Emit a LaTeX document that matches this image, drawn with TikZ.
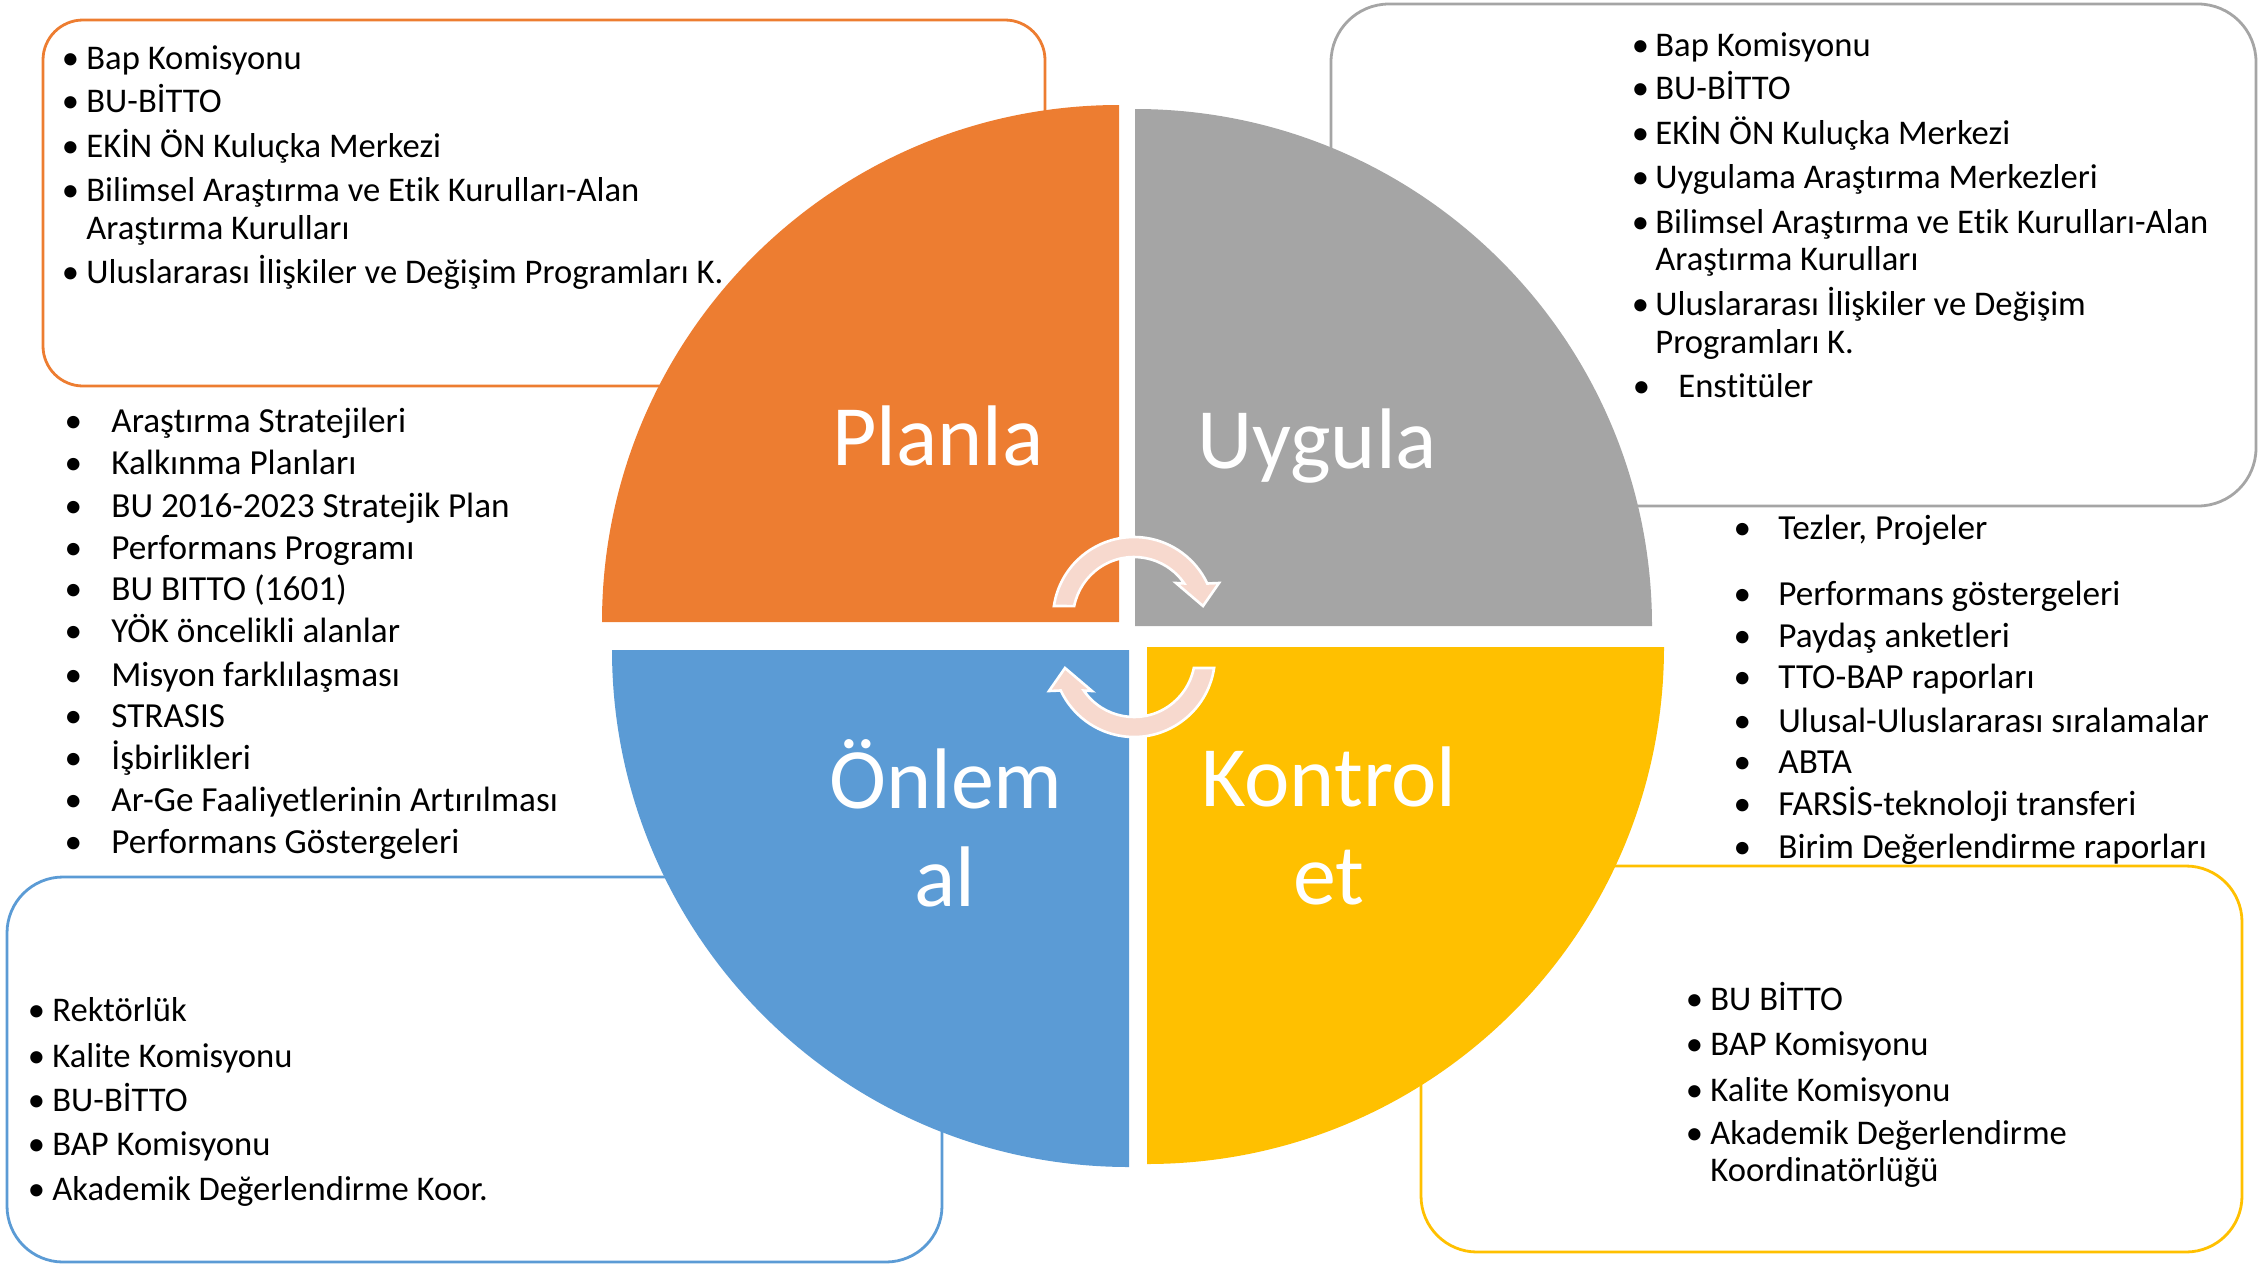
\documentclass[tikz,border=0pt]{standalone}
\usepackage{fontspec}
\setmainfont{Carlito}[Ligatures=NoCommon]
\definecolor{cOr}{HTML}{ED7D31}
\definecolor{cGr}{HTML}{A5A5A5}
\definecolor{cBl}{HTML}{5B9BD5}
\definecolor{cYe}{HTML}{FFC000}
\definecolor{cAr}{HTML}{F7D9CE}
\newcommand\bul[1]{\llap{\makebox[#1][c]{•}}}
\begin{document}
\begin{tikzpicture}[x=0.5pt,y=-0.5pt,
  box/.style={line width=1.4pt, fill=white},
  li/.style={anchor=base west, inner sep=0pt, font=\fontsize{17.3}{20}\selectfont},
  lim/.style={anchor=base west, inner sep=0pt, font=\fontsize{17.6}{20}\selectfont},
  lab/.style={anchor=base, inner sep=0pt, text=white, font=\fontsize{43}{50}\selectfont},
  arr/.style={fill=cAr, draw=white, line width=1.3pt, line join=miter}]
\useasboundingbox (0,0) rectangle (2260,1264);

% boxes
\draw[box, draw=cOr, rounded corners=20pt] (43,20) rectangle (1045,386);
\draw[box, draw=cGr, rounded corners=29pt] (1331,4) rectangle (2256,506);
\draw[box, draw=cBl, rounded corners=28pt] (7,877) rectangle (942,1262);
\draw[box, draw=cYe, rounded corners=28pt] (1421,866) rectangle (2242,1252);

% orange box list
\node[li] (a1) at (86,69) {\bul{16pt}Bap Komisyonu};
\node[li] (a2) at (86,112) {\bul{16pt}BU-BİTTO};
\node[li] (a3) at (86,157) {\bul{16pt}EKİN ÖN Kuluçka Merkezi};
\node[li] (a4) at (86,201) {\bul{16pt}Bilimsel Araştırma ve Etik Kurulları-Alan};
\node[li] (a5) at (86,239) {Araştırma Kurulları};
\node[li] (a6) at (86,283) {\bul{16pt}Uluslararası İlişkiler ve Değişim Programları K.};

% left middle list
\node[lim] (b1) at (111,432) {\bul{38pt}Araştırma Stratejileri};
\node[lim] (b2) at (111,474) {\bul{38pt}Kalkınma Planları};
\node[lim] (b3) at (111,517) {\bul{38pt}BU 2016-2023 Stratejik Plan};
\node[lim] (b4) at (111,559) {\bul{38pt}Performans Programı};
\node[lim] (b5) at (111,600) {\bul{38pt}BU BITTO (1601)};
\node[lim] (b6) at (111,642) {\bul{38pt}YÖK öncelikli alanlar};
\node[lim] (b7) at (111,686) {\bul{38pt}Misyon farklılaşması};
\node[lim] (b8) at (111,727) {\bul{38pt}STRASIS};
\node[lim] (b9) at (111,769) {\bul{38pt}İşbirlikleri};
\node[lim] (b10) at (111,811) {\bul{38pt}Ar-Ge Faaliyetlerinin Artırılması};
\node[lim] (b11) at (111,853) {\bul{38pt}Performans Göstergeleri};

% gray box list
\node[li] (c1) at (1655,56) {\bul{15pt}Bap Komisyonu};
\node[li] (c2) at (1655,99) {\bul{15pt}BU-BİTTO};
\node[li] (c3) at (1655,144) {\bul{15pt}EKİN ÖN Kuluçka Merkezi};
\node[li] (c4) at (1655,188) {\bul{15pt}Uygulama Araştırma Merkezleri};
\node[li] (c5) at (1655,233) {\bul{15pt}Bilimsel Araştırma ve Etik Kurulları-Alan};
\node[li] (c6) at (1655,270) {Araştırma Kurulları};
\node[li] (c7) at (1655,315) {\bul{15pt}Uluslararası İlişkiler ve Değişim};
\node[li] (c8) at (1655,353) {Programları K.};
\node[li] (c9) at (1678,397) {\bul{37pt}Enstitüler};

% right middle list
\node[lim] (d1) at (1778,539) {\bul{36pt}Tezler, Projeler};
\node[lim] (d2) at (1778,605) {\bul{36pt}Performans göstergeleri};
\node[lim] (d3) at (1778,647) {\bul{36pt}Paydaş anketleri};
\node[lim] (d4) at (1778,688) {\bul{36pt}TTO-BAP raporları};
\node[lim] (d5) at (1778,732) {\bul{36pt}Ulusal-Uluslararası sıralamalar};
\node[lim] (d6) at (1778,773) {\bul{36pt}ABTA};
\node[lim] (d7) at (1778,815) {\bul{36pt}FARSİS-teknoloji transferi};
\node[lim] (d8) at (1778,858) {\bul{36pt}Birim Değerlendirme raporları};

% blue box list
\node[li] (e1) at (52,1021) {\bul{16pt}Rektörlük};
\node[li] (e2) at (52,1067) {\bul{16pt}Kalite Komisyonu};
\node[li] (e3) at (52,1111) {\bul{16pt}BU-BİTTO};
\node[li] (e4) at (52,1155) {\bul{16pt}BAP Komisyonu};
\node[li] (e5) at (52,1200) {\bul{16pt}Akademik Değerlendirme Koor.};

% yellow box list
\node[li] (f1) at (1710,1010) {\bul{16pt}BU BİTTO};
\node[li] (f2) at (1710,1055) {\bul{16pt}BAP Komisyonu};
\node[li] (f3) at (1710,1101) {\bul{16pt}Kalite Komisyonu};
\node[li] (f4) at (1710,1144) {\bul{16pt}Akademik Değerlendirme};
\node[li] (f5) at (1710,1181) {Koordinatörlüğü};

% quadrants
\fill[cOr] (1119,622) -- (602,622) arc[start angle=180, end angle=270, radius=517] -- cycle;
\fill[cGr] (1135,626) -- (1135,109) arc[start angle=270, end angle=360, radius=517] -- cycle;
\fill[cYe] (1147,647) -- (1664,647) arc[start angle=0, end angle=90, radius=517] -- cycle;
\fill[cBl] (1129,650) -- (1129,1167) arc[start angle=90, end angle=180, radius=517] -- cycle;

% labels
\node[lab] (planla) at (938,465) {Planla};
\node[lab] (uygula) at (1317,468) {Uygula};
\node[lab] (onlem) at (946,808) {Önlem};
\node[lab] (al) at (945,906) {al};
\node[lab] (kontrol) at (1329,806) {Kontrol};
\node[lab] (et) at (1329,904) {et};

% circular arrows
\begin{scope}[shift={(1134,618)}]
\draw[arr] (188.5:81) arc[start angle=188.5, end angle=334.8, radius=81]
  -- (85,-35) -- (69,-12) -- (42,-35) -- (325.5:61)
  arc[start angle=325.5, end angle=191.3, radius=61] -- cycle;
\end{scope}
\begin{scope}[shift={(1134,656)}, rotate=180]
\draw[arr] (188.5:81) arc[start angle=188.5, end angle=334.8, radius=81]
  -- (85,-35) -- (69,-12) -- (42,-35) -- (325.5:61)
  arc[start angle=325.5, end angle=191.3, radius=61] -- cycle;
\end{scope}
\end{tikzpicture}
\end{document}
